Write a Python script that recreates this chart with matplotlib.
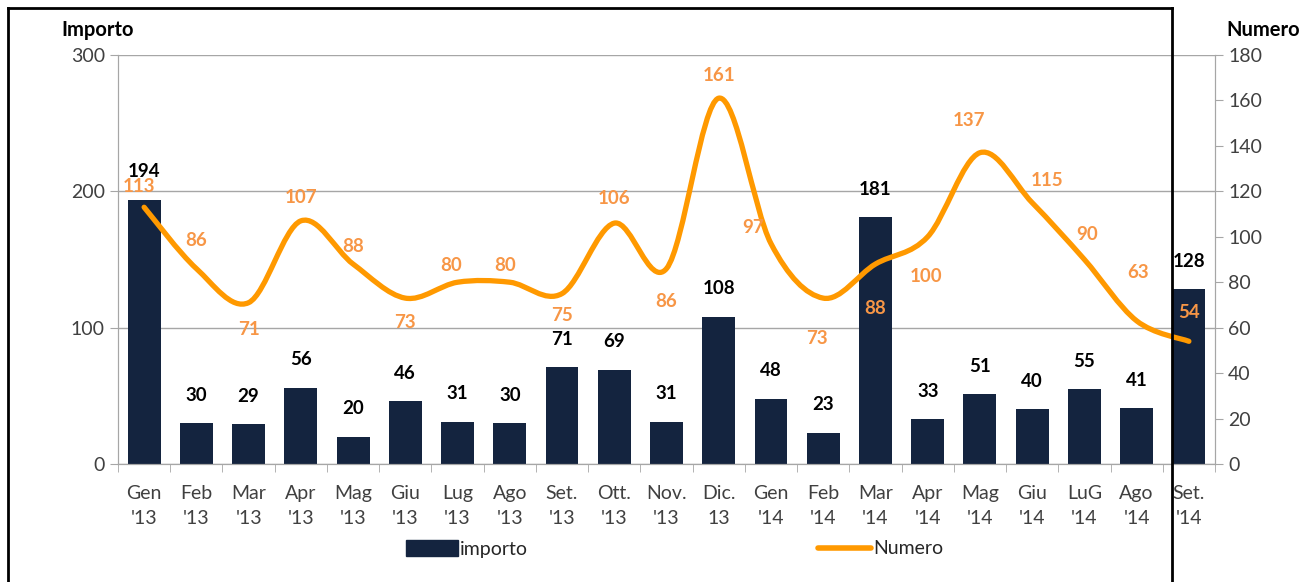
import matplotlib
matplotlib.use("Agg")
import matplotlib.pyplot as plt
import numpy as np
from matplotlib.path import Path
from matplotlib.patches import PathPatch
from matplotlib.lines import Line2D
from matplotlib.patches import Patch

months = ["Gen\n'13", "Feb\n'13", "Mar\n'13", "Apr\n'13", "Mag\n'13", "Giu\n'13",
          "Lug\n'13", "Ago\n'13", "Set.\n'13", "Ott.\n'13", "Nov.\n'13", "Dic.\n13",
          "Gen\n'14", "Feb\n'14", "Mar\n'14", "Apr\n'14", "Mag\n'14", "Giu\n'14",
          "LuG\n'14", "Ago\n'14", "Set.\n'14"]
importo = [194, 30, 29, 56, 20, 46, 31, 30, 71, 69, 31, 108, 48, 23, 181, 33, 51, 40, 55, 41, 128]
numero = [113, 86, 71, 107, 88, 73, 80, 80, 75, 106, 86, 161, 97, 73, 88, 100, 137, 115, 90, 63, 54]

# label offsets (pixels) for the Numero labels
num_dx = [-5, 0, 0, 0, 0, 0, -6, -5, 0, 0, 0, 0, -18, -6, 0, -2, -11, 15, 3, 1, 0]
num_dy = [21, 28, -27, 23, 18, -24, 17, 17, -22, 25, -33, 23, 16, -40, -44, -40, 32, 22, 25, 48, 29]

NAVY = "#14243F"
ORANGE = "#FF9900"
LABEL_OR = "#F79646"
GRID = "#A6A6A6"
FONTS = ['Lato', 'Liberation Sans', 'DejaVu Sans']

plt.rcParams['font.family'] = FONTS

fig = plt.figure(figsize=(13.04, 5.82), dpi=100)
W, H = 1304, 582
ax = fig.add_axes([118 / W, 1 - 464 / H, (1215 - 118) / W, (464 - 55) / H])
ax2 = ax.twinx()

x = np.arange(len(months))
ax.bar(x, importo, width=0.63, color=NAVY, zorder=2)
ax.set_xlim(-0.5, len(months) - 0.5)
ax.set_ylim(0, 300)
ax.set_yticks([0, 100, 200, 300])
ax.yaxis.grid(True, color=GRID, lw=1)
ax.set_axisbelow(True)
ax.set_xticks(x)
ax.set_xticklabels(months, fontsize=14, color="#404040", linespacing=1.6)
ax.set_xticks(np.arange(-0.5, len(months)), minor=True)
ax.tick_params(axis='x', which='major', length=0, pad=15)
ax.tick_params(axis='x', which='minor', length=6, color=GRID, direction='out')
ax.tick_params(axis='y', length=6, color=GRID, labelsize=14, labelcolor="#404040")
for s in ['top']:
    ax.spines[s].set_visible(False)
    ax2.spines[s].set_visible(False)
for s in ['left', 'bottom', 'right']:
    ax.spines[s].set_color(GRID)
    ax2.spines[s].set_color(GRID)

for xi, v in zip(x, importo):
    ax.annotate(str(v), (xi, v), xytext=(0, 28), textcoords='offset pixels',
                ha='center', va='center', fontsize=13.5, fontweight='bold',
                color='black', zorder=5)

ax2.set_ylim(0, 180)
ax2.set_yticks(np.arange(0, 181, 20))
ax2.tick_params(axis='y', length=6, color=GRID, labelsize=14, labelcolor="#404040")

# smooth line (Catmull-Rom style Bezier like Excel)
pts = np.column_stack([x, numero]).astype(float)
verts = [tuple(pts[0])]
codes = [Path.MOVETO]
n = len(pts)
for i in range(n - 1):
    p0 = pts[i - 1] if i > 0 else pts[i]
    p1 = pts[i]
    p2 = pts[i + 1]
    p3 = pts[i + 2] if i + 2 < n else pts[i + 1]
    c1 = p1 + (p2 - p0) / 6.0
    c2 = p2 - (p3 - p1) / 6.0
    verts += [tuple(c1), tuple(c2), tuple(p2)]
    codes += [Path.CURVE4] * 3
path = Path(verts, codes)
ax2.add_patch(PathPatch(path, facecolor='none', edgecolor=ORANGE, lw=3.8,
                        capstyle='round', joinstyle='round', zorder=3))

for xi, v, dx, dy in zip(x, numero, num_dx, num_dy):
    ax2.annotate(str(v), (xi, v), xytext=(dx, dy), textcoords='offset pixels',
                 ha='center', va='center', fontsize=13.5, fontweight='bold',
                 color=LABEL_OR, zorder=6)

fig.text(98 / W, 1 - 30 / H, "Importo", ha='center', va='center', fontsize=14.5,
         fontweight='bold')
fig.text(1263 / W, 1 - 30 / H, "Numero", ha='center', va='center', fontsize=14.5,
         fontweight='bold')

fig.legend(handles=[Patch(color=NAVY, label='importo')], loc='center',
           bbox_to_anchor=(467 / W, 1 - 549 / H), frameon=False,
           fontsize=14, handlelength=2.7, handleheight=0.85, handletextpad=0.1,
           labelcolor="#262626")
fig.legend(handles=[Line2D([], [], color=ORANGE, lw=4, solid_capstyle='round', label='Numero')],
           loc='center', bbox_to_anchor=(881 / W, 1 - 549 / H), frameon=False,
           fontsize=14, handlelength=2.7, handletextpad=0.15, labelcolor="#262626")

# surrounding frame of the screenshot
for (xa, ya) in [((8, 8), (8, 582)), ((8, 1172), (8, 8)), ((1172, 1172), (8, 582))]:
    fig.add_artist(Line2D([xa[0] / W, xa[1] / W], [1 - ya[0] / H, 1 - ya[1] / H],
                          color='black', lw=2, transform=fig.transFigure, zorder=10))

fig.savefig("out.png", dpi=100)
